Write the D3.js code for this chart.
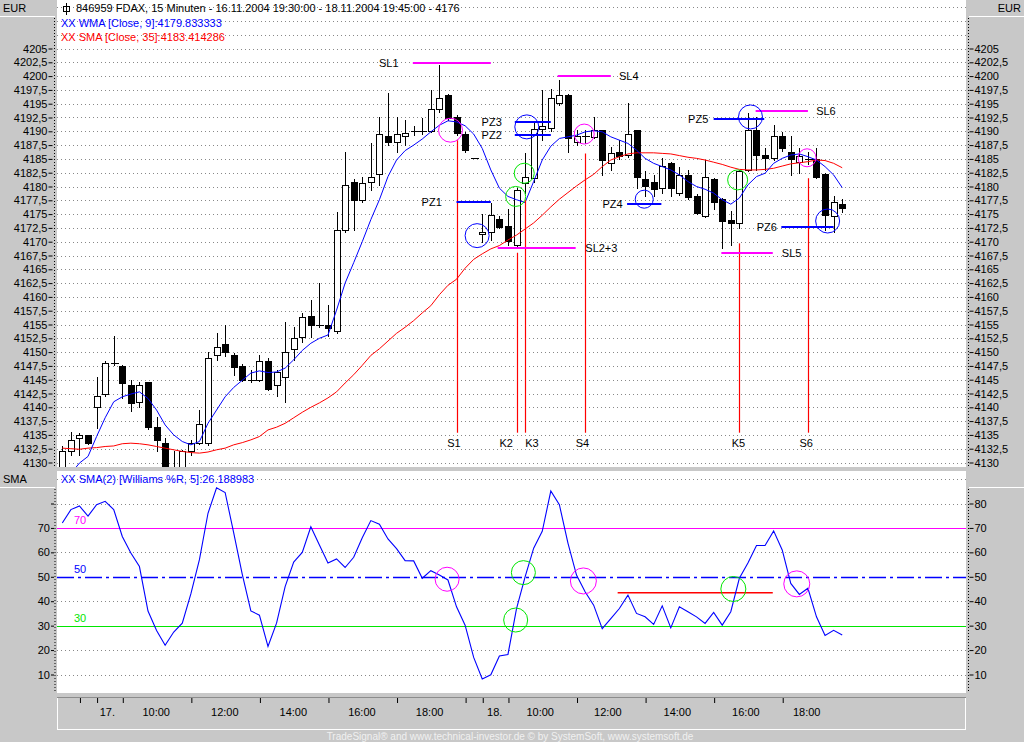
<!DOCTYPE html>
<html>
<head>
<meta charset="utf-8">
<script src="https://cdn.jsdelivr.net/npm/d3@7"></script>
<style>
body { margin: 0; background: #c8c8c8; }
svg { display: block; font-family: "Liberation Sans", Arial, sans-serif; font-size: 11px; }
</style>
</head>
<body>
<div id="chart"></div>
<script>
// FDAX 15 min bars, 16.11.2004 19:30 - 18.11.2004 19:45
var open = [
    4128.0, 4132.1, 4134.4, 4134.9, 4140.0, 4142.4, 4148.0, 4147.5, 4144.0, 4140.9,
    4144.5, 4136.4, 4133.5, 4129.0, 4128.5, 4132.1, 4133.5, 4133.5, 4149.5, 4151.4,
    4149.5, 4147.5, 4145.0, 4145.0, 4148.4, 4144.0, 4145.4, 4150.5, 4152.8, 4156.5,
    4154.9, 4154.9, 4153.9, 4172.2, 4180.9, 4177.7, 4180.8, 4182.3, 4189.1, 4188.1,
    4189.1, 4190.1, 4190.1, 4190.1, 4194.0, 4196.6, 4192.5, 4189.6, 4185.1, 4171.4,
    4171.8, 4174.2, 4172.8, 4169.4, 4180.6, 4181.7, 4190.5, 4190.5, 4195.2, 4196.6,
    4188.1, 4189.1, 4189.0, 4190.2, 4184.2, 4186.3, 4185.8, 4190.2, 4181.4, 4180.9,
    4179.7, 4184.2, 4178.8, 4182.1, 4178.3, 4174.7, 4181.4, 4177.7, 4173.9, 4173.3,
    4183.0, 4190.2, 4185.7, 4185.1, 4189.1, 4186.2, 4184.5, 4184.9, 4184.9, 4182.2,
    4174.7, 4176.8];
var high = [
    4132.9, 4135.5, 4135.4, 4135.0, 4145.5, 4148.3, 4152.9, 4147.7, 4144.9, 4144.5,
    4144.6, 4138.3, 4134.4, 4132.0, 4132.3, 4134.1, 4139.5, 4150.1, 4153.4, 4155.0,
    4149.8, 4147.8, 4146.8, 4149.5, 4148.9, 4146.8, 4155.5, 4154.6, 4157.0, 4159.4,
    4162.6, 4158.5, 4175.4, 4186.3, 4181.3, 4181.7, 4187.8, 4192.5, 4196.9, 4192.5,
    4192.0, 4190.9, 4192.4, 4197.5, 4202.0, 4196.8, 4193.0, 4189.9, 4185.1, 4175.1,
    4177.1, 4174.6, 4176.0, 4179.8, 4186.0, 4191.5, 4197.5, 4197.6, 4199.3, 4196.8,
    4190.2, 4190.2, 4192.5, 4190.3, 4187.1, 4188.4, 4195.2, 4190.3, 4182.8, 4182.1,
    4185.1, 4184.5, 4183.5, 4183.0, 4178.6, 4184.8, 4181.6, 4178.0, 4175.6, 4183.0,
    4193.3, 4192.6, 4186.9, 4191.1, 4189.9, 4189.1, 4186.9, 4186.3, 4186.9, 4182.5,
    4178.2, 4177.7];
var low = [
    4126.5, 4131.4, 4131.4, 4133.3, 4136.3, 4142.0, 4147.7, 4141.6, 4139.4, 4140.0,
    4136.0, 4132.0, 4127.5, 4126.0, 4127.5, 4131.4, 4133.3, 4133.2, 4148.6, 4149.3,
    4145.9, 4144.8, 4144.5, 4144.8, 4143.2, 4142.0, 4141.0, 4148.6, 4151.9, 4152.8,
    4154.5, 4152.9, 4153.5, 4171.8, 4172.1, 4177.2, 4179.4, 4180.3, 4187.5, 4186.3,
    4187.5, 4189.3, 4189.5, 4189.9, 4193.5, 4192.0, 4189.3, 4186.3, 4185.1, 4170.0,
    4170.3, 4172.5, 4169.4, 4169.1, 4178.8, 4180.9, 4188.5, 4190.0, 4194.8, 4186.3,
    4187.5, 4187.8, 4188.8, 4182.1, 4183.0, 4185.0, 4185.3, 4179.7, 4178.2, 4178.2,
    4178.8, 4178.2, 4178.5, 4177.8, 4175.0, 4174.5, 4176.0, 4168.8, 4169.4, 4172.4,
    4182.8, 4183.0, 4183.0, 4184.8, 4186.5, 4182.1, 4182.4, 4184.1, 4181.5, 4172.1,
    4171.8, 4175.3];
var close = [
    4132.0, 4134.1, 4134.9, 4133.5, 4142.0, 4148.0, 4148.0, 4144.5, 4140.8, 4144.0,
    4136.3, 4134.0, 4128.5, 4128.0, 4132.0, 4133.5, 4136.9, 4148.9, 4150.9, 4149.9,
    4147.4, 4145.0, 4145.0, 4148.4, 4143.4, 4146.4, 4150.0, 4152.5, 4156.4, 4154.8,
    4154.9, 4154.4, 4172.2, 4180.3, 4177.7, 4180.7, 4181.7, 4189.6, 4188.1, 4189.6,
    4189.7, 4190.1, 4190.1, 4194.0, 4196.0, 4192.5, 4189.6, 4186.7, 4185.1, 4171.8,
    4174.8, 4172.7, 4170.0, 4179.4, 4181.7, 4190.5, 4191.0, 4196.0, 4196.6, 4188.9,
    4189.1, 4189.1, 4190.2, 4184.8, 4186.1, 4185.6, 4189.6, 4181.7, 4180.1, 4179.7,
    4183.7, 4179.7, 4182.1, 4178.2, 4175.3, 4181.7, 4177.2, 4173.8, 4173.3, 4182.8,
    4190.2, 4185.7, 4185.1, 4189.1, 4187.0, 4184.9, 4185.6, 4184.9, 4181.7, 4174.7,
    4177.2, 4176.0];

// WMA [Close, 9]
var wma9 = [
    4126.5, 4128.0, 4129.9, 4131.1, 4134.7, 4138.1, 4141.0, 4141.9, 4142.4, 4142.8,
    4141.6, 4139.5, 4136.8, 4135.0, 4133.8, 4133.2, 4133.8, 4137.1, 4139.5, 4141.9,
    4143.6, 4144.9, 4146.2, 4146.6, 4146.3, 4146.4, 4147.1, 4148.6, 4150.3, 4151.6,
    4152.5, 4153.1, 4157.6, 4162.5, 4166.2, 4170.0, 4174.0, 4177.6, 4181.8, 4184.8,
    4186.5, 4187.5, 4188.6, 4189.9, 4191.1, 4191.9, 4191.7, 4191.0, 4189.5, 4186.9,
    4183.0, 4179.7, 4178.2, 4177.6, 4177.1, 4180.9, 4184.8, 4187.3, 4188.7, 4189.0,
    4189.3, 4189.9, 4190.1, 4189.9, 4189.0, 4188.4, 4187.8, 4186.6, 4185.1, 4184.2,
    4183.6, 4183.0, 4182.1, 4180.9, 4180.0, 4179.5, 4178.8, 4177.6, 4176.8, 4177.9,
    4180.3, 4181.8, 4182.4, 4184.2, 4185.1, 4185.7, 4185.9, 4185.4, 4184.8, 4183.6,
    4182.1, 4179.8];
// SMA [Close, 35]
var sma35 = [
    4132.6, 4132.5, 4132.4, 4132.6, 4132.7, 4132.9, 4133.0, 4133.4, 4133.5, 4133.4,
    4133.2, 4132.9, 4132.6, 4132.3, 4132.0, 4131.8, 4131.7, 4131.9, 4132.3, 4132.6,
    4133.2, 4133.6, 4134.1, 4134.7, 4135.9, 4136.4, 4137.1, 4138.1, 4139.1, 4140.0,
    4140.8, 4141.7, 4142.8, 4144.4, 4145.9, 4147.6, 4149.4, 4150.6, 4152.0, 4153.4,
    4154.5, 4155.7, 4157.1, 4158.4, 4160.4, 4162.1, 4163.2, 4165.2, 4166.8, 4167.8,
    4168.7, 4169.3, 4170.3, 4171.2, 4172.3, 4173.4, 4174.8, 4176.3, 4177.7, 4178.9,
    4180.1, 4181.2, 4182.2, 4183.6, 4184.8, 4185.4, 4185.9, 4186.1, 4186.1, 4186.1,
    4186.0, 4185.9, 4185.6, 4185.3, 4185.1, 4184.8, 4184.4, 4184.0, 4183.5, 4183.1,
    4183.0, 4183.0, 4183.1, 4183.3, 4183.7, 4184.1, 4184.3, 4184.5, 4184.8, 4184.7,
    4184.2, 4183.4];
// SMA(2) [Williams %R, 5]
var willr = [
    72.0, 77.5, 79.0, 74.8, 79.5, 80.9, 77.5, 66.5, 59.7, 54.2,
    36.0, 28.0, 22.0, 27.4, 31.0, 43.0, 57.0, 76.0, 86.4, 84.5,
    68.0, 51.0, 36.0, 34.3, 21.5, 31.0, 46.0, 56.0, 60.0, 70.5,
    63.0, 55.6, 57.3, 53.8, 58.0, 66.0, 73.0, 71.5, 65.5, 61.5,
    56.6, 56.5, 49.4, 52.5, 50.7, 48.7, 37.7, 30.2, 17.0, 8.2,
    9.9, 17.6, 18.2, 37.0, 50.0, 61.7, 68.6, 85.1, 79.5, 63.8,
    50.7, 43.9, 38.4, 28.8, 32.9, 37.0, 42.5, 35.0, 33.6, 30.5,
    38.1, 29.1, 37.7, 35.7, 33.6, 30.9, 35.4, 30.2, 35.7, 49.4,
    55.6, 62.8, 62.8, 68.8, 61.0, 47.3, 42.8, 45.3, 33.6, 26.0,
    28.1, 26.2];

var priceTicks = d3.range(4130, 4205.1, 2.5);
var priceGrid = d3.range(4130, 4213, 2.5);
var oscTicks = [10, 20, 30, 40, 50, 60, 70, 80];
var oscGrid = [10, 20, 40, 60, 80, 90];
var oscLevels = [70, 50, 30];
var timeTicks = [2, 4, 7, 15, 23, 31, 39, 47, 49, 52, 60, 68, 76, 84];
var timeLabelPos = [5.2, 10.9, 18.9, 26.9, 34.9, 42.8, 50.4, 55.7, 63.6, 71.7, 79.7, 86.8];
var timeLabels = ["17.", "10:00", "12:00", "14:00", "16:00", "18:00",
                  "18.", "10:00", "12:00", "14:00", "16:00", "18:00"];

// hand drawn marks: stop lines (magenta), zone lines (blue), signals (red)
var stopNames = ["SL1", "SL4", "SL6", "SL2+3", "SL5"];
var stopFrom  = [40.9, 57.8, 80.9, 50.8, 76.9];
var stopTo    = [50.0, 64.0, 87.0, 59.9, 82.9];
var stopPrice = [4202.4, 4200.1, 4193.7, 4168.9, 4167.9];
var stopLabel = [38.1, 66.1, 89.1, 62.9, 85.1];

var zoneNames = ["PZ1", "PZ2", "PZ3", "PZ4", "PZ5", "PZ6"];
var zoneFrom  = [46.0, 52.8, 52.8, 65.9, 76.0, 83.9];
var zoneTo    = [50.0, 57.0, 57.0, 69.9, 81.9, 90.0];
var zonePrice = [4177.25, 4189.3, 4191.7, 4176.8, 4192.3, 4172.7];
var zoneLabel = [43.1, 50.1, 50.1, 64.2, 74.2, 82.2];

var signalNames = ["S1", "K2", "K3", "S4", "K5", "S6"];
var signalBar   = [46, 53, 54, 61, 79, 87];
var signalTop   = [4188.4, 4168.0, 4177.6, 4186.0, 4169.7, 4181.5];
var signalLabel = [45.7, 51.8, 54.8, 60.7, 78.9, 86.8];
var signalBottom = 4135.4;

var circleBar   = [45.3, 48.4, 54.2, 53.9, 52.9, 60.9, 67.9, 78.8, 80.3, 86.9, 89.3];
var circlePrice = [4190.2, 4171.1, 4190.8, 4182.4, 4178.2, 4189.5, 4177.7, 4181.2, 4192.6, 4185.2, 4173.75];
var circleColor = ["m", "b", "b", "g", "g", "m", "b", "g", "b", "m", "b"];
var circleR     = [12, 12, 12, 10, 10, 10, 9, 10, 12, 9, 12];

var oscCircleBar   = [44.9, 52.9, 53.8, 60.8, 78.3, 85.7];
var oscCircleValue = [49.0, 32.3, 51.7, 48.3, 45.0, 47.1];
var oscCircleColor = ["m", "g", "g", "m", "g", "m"];
var oscCircleR     = [12, 12, 12, 13, 12.5, 13];
var oscRedLine = [64.8, 82.9, 43.5];

var colors = {m: "#ff00ff", b: "#0000ff", g: "#00e600", r: "#ff0000"};

var svgwidth = 1024, svgheight = 742;
var plotLeft = 57, plotRight = 966;
var mainTop = 0, mainBottom = 467;
var oscTop = 471, oscBottom = 693;

var svg = d3.select("#chart")
    .append("svg")
    .attr("width", svgwidth)
    .attr("height", svgheight);

var x = d3.scaleLinear().domain([0, 91]).range([62.3, 842.2]);
var y = d3.scaleLinear().domain([4130, 4205]).range([462.5, 48.5]);
var yo = d3.scaleLinear().domain([10, 80]).range([674.5, 503.5]);

function fmtPrice(d) { return String(d).replace(".", ","); }
function px(v) { return Math.round(v) + 0.5; }

svg.append("rect").attr("width", svgwidth).attr("height", svgheight).attr("fill", "#c8c8c8");

// panels
svg.append("rect").attr("x", plotLeft).attr("y", mainTop)
    .attr("width", plotRight - plotLeft).attr("height", mainBottom - mainTop).attr("fill", "#fff");
svg.append("rect").attr("x", plotLeft).attr("y", oscTop)
    .attr("width", plotRight - plotLeft).attr("height", oscBottom - oscTop).attr("fill", "#fff");

var defs = svg.append("defs");
defs.append("clipPath").attr("id", "clipMain").append("rect")
    .attr("x", plotLeft).attr("y", mainTop).attr("width", plotRight - plotLeft).attr("height", mainBottom - mainTop);
defs.append("clipPath").attr("id", "clipOsc").append("rect")
    .attr("x", plotLeft).attr("y", oscTop).attr("width", plotRight - plotLeft).attr("height", oscBottom - oscTop);

// header boxes of the axis columns
var boxes = [[0, 0, "EUR", "start"], [969, 0, "EUR", "end"], [0, 471, "SMA", "start"], [969, 471, "", "end"]];
boxes.forEach(function(b) {
    svg.append("line").attr("x1", b[0]).attr("x2", b[0] + 55)
        .attr("y1", b[1] + 16.5).attr("y2", b[1] + 16.5).attr("stroke", "#fff");
    svg.append("text").attr("x", b[3] == "start" ? b[0] + 3 : b[0] + 52).attr("y", b[1] + 12)
        .attr("text-anchor", b[3]).attr("fill", "#000").text(b[2]);
});

// dotted axis lines
[[54.5, 18, mainBottom], [968.5, 18, mainBottom], [55, oscTop + 18, oscBottom], [968.5, oscTop + 18, oscBottom]].forEach(function(l) {
    svg.append("line").attr("x1", l[0]).attr("x2", l[0]).attr("y1", l[1]).attr("y2", l[2])
        .attr("stroke", "#000").attr("stroke-dasharray", "1,2");
});

// grid
var gMain = svg.append("g").attr("clip-path", "url(#clipMain)");
gMain.selectAll(".grid").data(priceGrid).enter().append("line")
    .attr("x1", plotLeft).attr("x2", plotRight)
    .attr("y1", function(d) { return px(y(d)); }).attr("y2", function(d) { return px(y(d)); })
    .attr("stroke", "#888").attr("stroke-dasharray", "1,3");

var gOsc = svg.append("g").attr("clip-path", "url(#clipOsc)");
gOsc.selectAll(".grid").data(oscGrid).enter().append("line")
    .attr("x1", plotLeft).attr("x2", plotRight)
    .attr("y1", function(d) { return px(yo(d)); }).attr("y2", function(d) { return px(yo(d)); })
    .attr("stroke", "#888").attr("stroke-dasharray", "1,3");

// title and legends
svg.append("rect").attr("x", 63.5).attr("y", 6.5).attr("width", 6).attr("height", 5)
    .attr("fill", "#fff").attr("stroke", "#000");
svg.append("line").attr("x1", 66.5).attr("x2", 66.5).attr("y1", 3).attr("y2", 15).attr("stroke", "#000");
svg.append("text").attr("x", 76).attr("y", 12).attr("fill", "#000")
    .text("846959  FDAX, 15 Minuten - 16.11.2004 19:30:00 - 18.11.2004 19:45:00 - 4176");
svg.append("text").attr("x", 61).attr("y", 26.5).attr("fill", colors.b).text("XX WMA [Close, 9]:4179.833333");
svg.append("text").attr("x", 61).attr("y", 40.5).attr("fill", colors.r).text("XX SMA [Close, 35]:4183.414286");
svg.append("text").attr("x", 61).attr("y", 483).attr("fill", colors.b).text("XX SMA(2) [Williams %R, 5]:26.188983");

// candles
var idx = d3.range(open.length);
var candles = gMain.append("g").attr("shape-rendering", "crispEdges");
candles.selectAll(".wick").data(idx).enter().append("line")
    .attr("x1", function(i) { return px(x(i)); }).attr("x2", function(i) { return px(x(i)); })
    .attr("y1", function(i) { return Math.round(y(high[i])); })
    .attr("y2", function(i) { return Math.round(y(low[i])) + 1; })
    .attr("stroke", "#000");
candles.selectAll(".body").data(idx.filter(function(i) { return Math.abs(open[i] - close[i]) >= 0.3; }))
    .enter().append("rect")
    .attr("x", function(i) { return px(x(i)) - 3; })
    .attr("y", function(i) { return px(y(Math.max(open[i], close[i]))); })
    .attr("width", 6)
    .attr("height", function(i) { return Math.max(1, Math.round(y(Math.min(open[i], close[i])) - y(Math.max(open[i], close[i])))); })
    .attr("fill", function(i) { return close[i] >= open[i] ? "#fff" : "#000"; })
    .attr("stroke", "#000");
candles.selectAll(".doji").data(idx.filter(function(i) { return Math.abs(open[i] - close[i]) < 0.3; }))
    .enter().append("line")
    .attr("x1", function(i) { return px(x(i)) - 3.5; }).attr("x2", function(i) { return px(x(i)) + 4; })
    .attr("y1", function(i) { return px(y(close[i])); }).attr("y2", function(i) { return px(y(close[i])); })
    .attr("stroke", "#000");

// moving averages
var line = d3.line().x(function(d, i) { return x(i); });
gMain.append("path").datum(sma35)
    .attr("d", line.y(function(d) { return y(d); }))
    .attr("fill", "none").attr("stroke", colors.r).attr("stroke-width", 1);
gMain.append("path").datum(wma9)
    .attr("d", line.y(function(d) { return y(d); }))
    .attr("fill", "none").attr("stroke", colors.b).attr("stroke-width", 1);

// signal verticals
var gMarks = gMain.append("g");
signalNames.forEach(function(n, k) {
    gMarks.append("line")
        .attr("x1", px(x(signalBar[k]))).attr("x2", px(x(signalBar[k])))
        .attr("y1", y(signalTop[k])).attr("y2", y(signalBottom))
        .attr("stroke", colors.r).attr("stroke-width", 1.2);
    gMarks.append("text").attr("x", x(signalLabel[k])).attr("y", y(signalBottom) + 14)
        .attr("text-anchor", "middle").attr("fill", "#000").text(n);
});

// stop and zone lines
stopNames.forEach(function(n, k) {
    gMarks.append("line")
        .attr("x1", x(stopFrom[k])).attr("x2", x(stopTo[k]))
        .attr("y1", Math.round(y(stopPrice[k]))).attr("y2", Math.round(y(stopPrice[k])))
        .attr("stroke", colors.m).attr("stroke-width", 2);
    gMarks.append("text").attr("x", x(stopLabel[k])).attr("y", y(stopPrice[k]) + 4)
        .attr("text-anchor", "middle").attr("fill", "#000").text(n);
});
zoneNames.forEach(function(n, k) {
    gMarks.append("line")
        .attr("x1", x(zoneFrom[k])).attr("x2", x(zoneTo[k]))
        .attr("y1", Math.round(y(zonePrice[k]))).attr("y2", Math.round(y(zonePrice[k])))
        .attr("stroke", colors.b).attr("stroke-width", 2);
    gMarks.append("text").attr("x", x(zoneLabel[k])).attr("y", y(zonePrice[k]) + 4)
        .attr("text-anchor", "middle").attr("fill", "#000").text(n);
});

gMarks.selectAll(".circle").data(circleBar).enter().append("circle")
    .attr("cx", function(d) { return x(d); })
    .attr("cy", function(d, k) { return y(circlePrice[k]); })
    .attr("r", function(d, k) { return circleR[k]; })
    .attr("fill", "none")
    .attr("stroke", function(d, k) { return colors[circleColor[k]]; });

// oscillator levels
var levelColor = [colors.m, colors.b, colors.g];
oscLevels.forEach(function(v, k) {
    gOsc.append("line").attr("x1", plotLeft).attr("x2", plotRight)
        .attr("y1", px(yo(v))).attr("y2", px(yo(v)))
        .attr("stroke", levelColor[k])
        .attr("stroke-width", v == 50 ? 1.5 : 1.2)
        .attr("stroke-dasharray", v == 50 ? "17,4,3,4" : null);
    gOsc.append("text").attr("x", 74).attr("y", yo(v) - 4).attr("fill", levelColor[k]).text(v);
});

gOsc.append("line")
    .attr("x1", x(oscRedLine[0])).attr("x2", x(oscRedLine[1]))
    .attr("y1", yo(oscRedLine[2])).attr("y2", yo(oscRedLine[2]))
    .attr("stroke", colors.r).attr("stroke-width", 1.5);

gOsc.append("path").datum(willr)
    .attr("d", d3.line().x(function(d, i) { return x(i); }).y(function(d) { return yo(d); }))
    .attr("fill", "none").attr("stroke", colors.b).attr("stroke-width", 1.1);

gOsc.selectAll(".circle").data(oscCircleBar).enter().append("circle")
    .attr("cx", function(d) { return x(d); })
    .attr("cy", function(d, k) { return yo(oscCircleValue[k]); })
    .attr("r", function(d, k) { return oscCircleR[k]; })
    .attr("fill", "none")
    .attr("stroke", function(d, k) { return colors[oscCircleColor[k]]; });

// axes
function styleAxis(g) {
    g.attr("font-size", 11).attr("font-family", null);
    g.select(".domain").remove();
    g.selectAll("text").attr("fill", "#000");
    g.selectAll("line").attr("stroke", "#000");
}
svg.append("g").attr("transform", "translate(52.5,0)")
    .call(d3.axisLeft(y).tickValues(priceTicks).tickSize(4).tickPadding(1).tickFormat(fmtPrice))
    .call(styleAxis);
svg.append("g").attr("transform", "translate(969.5,0)")
    .call(d3.axisRight(y).tickValues(priceTicks).tickSize(4).tickPadding(1).tickFormat(fmtPrice))
    .call(styleAxis);
svg.append("g").attr("transform", "translate(54,0)")
    .call(d3.axisLeft(yo).tickValues(oscTicks).tickSize(3).tickPadding(1)
        .tickFormat(function(d) { return d == 80 ? "" : d; }))
    .call(styleAxis);
svg.append("g").attr("transform", "translate(969.5,0)")
    .call(d3.axisRight(yo).tickValues(oscTicks).tickSize(4).tickPadding(1))
    .call(styleAxis);

// time axis band
svg.append("line").attr("x1", plotLeft).attr("x2", plotRight).attr("y1", 697.5).attr("y2", 697.5).attr("stroke", "#8c8c8c");
svg.append("line").attr("x1", plotLeft).attr("x2", plotRight).attr("y1", 729.5).attr("y2", 729.5).attr("stroke", "#fff");
svg.append("line").attr("x1", plotLeft + 0.5).attr("x2", plotLeft + 0.5).attr("y1", 698).attr("y2", 729).attr("stroke", "#fff");
svg.append("line").attr("x1", plotRight - 0.5).attr("x2", plotRight - 0.5).attr("y1", 698).attr("y2", 729).attr("stroke", "#fff");

svg.append("g").attr("transform", "translate(0,698)")
    .call(d3.axisBottom(x).tickValues(timeTicks).tickSize(5).tickFormat(""))
    .call(styleAxis)
    .selectAll("line").attr("transform", "translate(0.5,0)");
svg.append("g").attr("transform", "translate(0,708)")
    .call(d3.axisBottom(x).tickValues(timeLabelPos).tickSize(0).tickPadding(0)
        .tickFormat(function(d, k) { return timeLabels[k]; }))
    .call(styleAxis);

svg.append("text").attr("x", 510).attr("y", 740).attr("text-anchor", "middle")
    .attr("font-size", 10).attr("fill", "#f0f0f0")
    .text("TradeSignal\u00ae and www.technical-investor.de \u00a9 by  SystemSoft, www.systemsoft.de");
</script>
</body>
</html>
